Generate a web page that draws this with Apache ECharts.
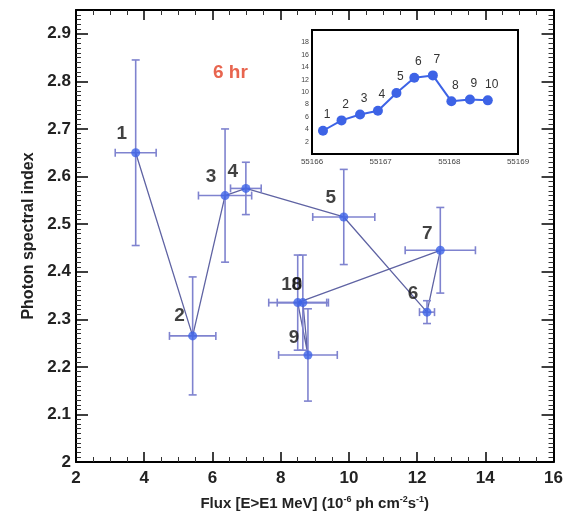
<!DOCTYPE html>
<html>
<head>
<meta charset="utf-8">
<script src="https://cdn.jsdelivr.net/npm/echarts@6/dist/echarts.min.js"></script>
<style>
html,body{margin:0;padding:0;background:#fff;}
#c{width:566px;height:528px;}
</style>
</head>
<body>
<div id="c"></div>
<script>
// ---- data ----
const pointLabels = ['1','2','3','4','5','6','7','8','9','10'];
const flux      = [3.75, 5.42, 6.37, 6.98, 9.85, 12.29, 12.68, 8.50, 8.80, 8.65];
const fluxErr   = [0.60, 0.68, 0.78, 0.45, 0.91, 0.22, 1.03, 0.85, 0.86, 0.75];
const photonIdx = [2.650, 2.265, 2.560, 2.575, 2.515, 2.315, 2.445, 2.335, 2.225, 2.335];
const photonErr = [0.195, 0.124, 0.140, 0.055, 0.100, 0.024, 0.090, 0.100, 0.097, 0.100];
const insetMJD  = [55166.16, 55166.43, 55166.70, 55166.96, 55167.23, 55167.49, 55167.76, 55168.03, 55168.30, 55168.56];
const insetFlux = [3.75, 5.42, 6.37, 6.98, 9.85, 12.29, 12.68, 8.50, 8.80, 8.65];
const xTicks = [2, 4, 6, 8, 10, 12, 14, 16];
const yTicks = [2, 2.1, 2.2, 2.3, 2.4, 2.5, 2.6, 2.7, 2.8, 2.9];

// ---- label offsets (styling) ----
const labelOffsets = [[-14,-19],[-13,-20],[-14,-19],[-13,-17],[-13,-19],[-14,-18],[-13,-17],[-1,-18],[-14,-17],[-11,-18]];

const chart = echarts.init(document.getElementById('c'), null, {renderer:'canvas'});
const FONT = 'Liberation Sans, Arial, sans-serif';
const errColor = '#7f83cf';
const lineColor = '#5f63a3';
const ptColor = '#3d63e6';

const mainPts = flux.map((f,i)=>[f, photonIdx[i]]);
const errData = flux.map((f,i)=>[f, photonIdx[i], fluxErr[i], photonErr[i]]);

function renderErr(params, api){
  const x = api.value(0), y = api.value(1), ex = api.value(2), ey = api.value(3);
  const c = api.coord([x,y]);
  const l = api.coord([x-ex,y]), r = api.coord([x+ex,y]);
  const t = api.coord([x,y+ey]), b = api.coord([x,y-ey]);
  const cap = 4;
  const st = {stroke: errColor, lineWidth: 1.6};
  const mk = (x1,y1,x2,y2)=>({type:'line', shape:{x1,y1,x2,y2}, style:st});
  return {type:'group', children:[
    mk(l[0],c[1],r[0],c[1]),
    mk(l[0],c[1]-cap,l[0],c[1]+cap),
    mk(r[0],c[1]-cap,r[0],c[1]+cap),
    mk(c[0],t[1],c[0],b[1]),
    mk(c[0]-cap,t[1],c[0]+cap,t[1]),
    mk(c[0]-cap,b[1],c[0]+cap,b[1])
  ]};
}

const axLine = {show:true, lineStyle:{color:'#000', width:2}};
const tickIn = (len)=>({show:true, inside:true, length:len, lineStyle:{color:'#000', width:1.5}});
const minorIn = (n,len)=>({show:true, splitNumber:n, length:len, lineStyle:{color:'#333', width:1}});

const option = {
  backgroundColor:'#fff',
  animation:false,
  grid:[
    {left:76, top:10, width:480, height:452, show:false},
    {left:312, top:30, width:206, height:124, show:true, backgroundColor:'#fff', borderColor:'#000', borderWidth:2, z:5}
  ],
  xAxis:[
    {gridIndex:0, type:'value', min:xTicks[0], max:xTicks[xTicks.length-1], interval:2, position:'bottom',
     axisLine:axLine, axisTick:tickIn(10), minorTick:minorIn(4,5), splitLine:{show:false},
     axisLabel:{color:'#222', fontSize:17, fontWeight:'bold', fontFamily:FONT, margin:8},
     name:'{a|Flux [E>E1 MeV] (10}{s|-6}{a| ph cm}{s|-2}{a|s}{s|-1}{a|)}', nameLocation:'middle', nameGap:33,
     nameTextStyle:{rich:{a:{fontSize:15, fontWeight:'bold', color:'#222', fontFamily:FONT}, s:{fontSize:9, fontWeight:'bold', color:'#222', fontFamily:FONT, verticalAlign:'top', padding:[0,0,8,0]}}}},
    {gridIndex:0, type:'value', min:2, max:16, interval:2, position:'top',
     axisLine:axLine, axisTick:tickIn(10), minorTick:minorIn(4,5), splitLine:{show:false}, axisLabel:{show:false}},
    {gridIndex:1, type:'value', min:55166, max:55169, interval:1, position:'bottom',
     axisLine:{show:false}, axisTick:tickIn(5), minorTick:minorIn(4,3), splitLine:{show:false},
     axisLabel:{color:'#444', fontSize:8, fontFamily:FONT, margin:4, formatter:v=>String(v)}}
  ],
  yAxis:[
    {gridIndex:0, type:'value', min:2, max:2.95, interval:0.1, position:'left',
     axisLine:axLine, axisTick:tickIn(12), minorTick:minorIn(10,5), splitLine:{show:false},
     axisLabel:{color:'#222', fontSize:17, fontWeight:'bold', fontFamily:FONT, margin:5, showMaxLabel:false,
       formatter:v=>{const r=Math.round(v*10)/10; return Math.abs(r-v)<1e-6 ? String(r) : '';}},
     name:'Photon spectral index', nameLocation:'middle', nameGap:39,
     nameTextStyle:{fontSize:16, fontWeight:'bold', color:'#222', fontFamily:FONT}},
    {gridIndex:0, type:'value', min:2, max:2.95, interval:0.1, position:'right',
     axisLine:axLine, axisTick:tickIn(12), minorTick:minorIn(10,5), splitLine:{show:false}, axisLabel:{show:false}},
    {gridIndex:1, type:'value', min:0, max:20, interval:2, position:'left',
     axisLine:{show:false}, axisTick:tickIn(6), splitLine:{show:false},
     axisLabel:{color:'#444', fontSize:7, fontFamily:FONT, margin:3, formatter:v=>(v>=2 && v<=18)?String(v):''}}
  ],
  series:[
    {type:'line', xAxisIndex:0, yAxisIndex:0, data:mainPts, symbol:'none', lineStyle:{color:lineColor, width:1.3}, z:2},
    {type:'custom', xAxisIndex:0, yAxisIndex:0, data:errData, renderItem:renderErr, z:3},
    {type:'scatter', xAxisIndex:0, yAxisIndex:0, data:mainPts, symbolSize:9, itemStyle:{color:ptColor}, z:4,
     label:{show:true, position:'inside', color:'#111', fontSize:19, fontWeight:'bold', fontFamily:FONT,
       formatter:p=>pointLabels[p.dataIndex]},
     labelLayout:p=>({dx:labelOffsets[p.dataIndex][0], dy:labelOffsets[p.dataIndex][1]})},
    {type:'line', xAxisIndex:2, yAxisIndex:2, data:insetMJD.map((t,i)=>[t, insetFlux[i]]), symbol:'circle', symbolSize:10,
     itemStyle:{color:ptColor}, lineStyle:{color:ptColor, width:2}, z:6,
     label:{show:true, position:'top', distance:5, offset:[4,0], color:'#333', fontSize:12, fontFamily:FONT,
       formatter:p=>pointLabels[p.dataIndex]}}
  ],
  graphic:[
    {type:'text', left:213, top:63, z:10, style:{text:'6 hr', fill:'#e8654f', font:'bold 19px Liberation Sans, Arial, sans-serif'}}
  ]
};
chart.setOption(option);
</script>
</body>
</html>
